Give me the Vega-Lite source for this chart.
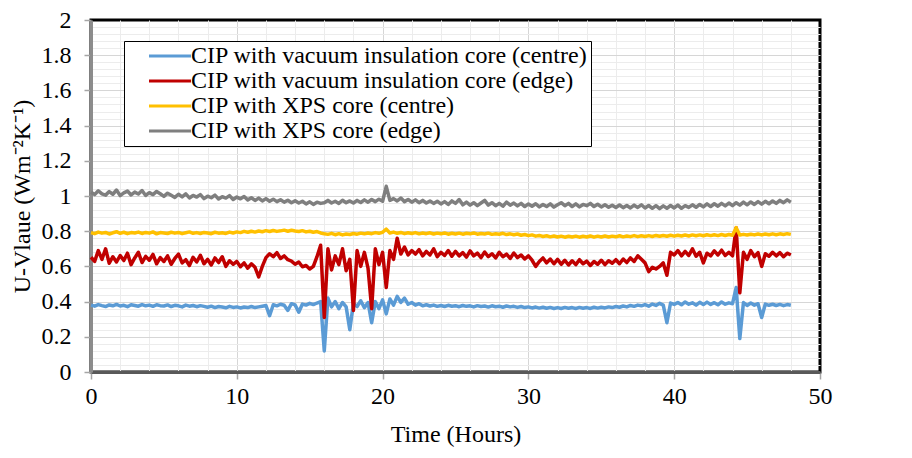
{
  "$schema": "https://vega.github.io/schema/vega-lite/v6.json",
  "width": 729,
  "height": 352,
  "autosize": {"type": "none"},
  "padding": {"left": 91, "top": 20, "right": 92, "bottom": 86},
  "background": "white",
  "config": {
    "view": {"stroke": "black", "strokeWidth": 3},
    "font": "Liberation Serif",
    "axis": {"labelFont": "Liberation Serif", "titleFont": "Liberation Serif", "labelFontSize": 24, "titleFontSize": 24, "labelColor": "black", "titleColor": "black", "titleFontWeight": "normal", "labelFlush": false}
  },
  "data": {"values": [
    {"t":0,"a":0.380,"b":0.652,"c":0.792,"d":1.021},
    {"t":0.25,"a":0.374,"b":0.628,"c":0.786,"d":1.008},
    {"t":0.5,"a":0.383,"b":0.690,"c":0.795,"d":1.030},
    {"t":0.75,"a":0.377,"b":0.640,"c":0.789,"d":1.012},
    {"t":1,"a":0.372,"b":0.700,"c":0.793,"d":1.005},
    {"t":1.25,"a":0.381,"b":0.618,"c":0.784,"d":1.025},
    {"t":1.5,"a":0.376,"b":0.655,"c":0.791,"d":1.010},
    {"t":1.75,"a":0.384,"b":0.625,"c":0.797,"d":1.034},
    {"t":2,"a":0.375,"b":0.662,"c":0.788,"d":1.002},
    {"t":2.25,"a":0.379,"b":0.633,"c":0.794,"d":1.018},
    {"t":2.5,"a":0.371,"b":0.675,"c":0.786,"d":1.028},
    {"t":2.75,"a":0.382,"b":0.610,"c":0.792,"d":1.006},
    {"t":3,"a":0.378,"b":0.648,"c":0.790,"d":1.022},
    {"t":3.25,"a":0.374,"b":0.680,"c":0.795,"d":1.011},
    {"t":3.5,"a":0.383,"b":0.622,"c":0.787,"d":1.031},
    {"t":3.75,"a":0.376,"b":0.657,"c":0.793,"d":1.003},
    {"t":4,"a":0.380,"b":0.635,"c":0.789,"d":1.019},
    {"t":4.25,"a":0.373,"b":0.668,"c":0.796,"d":1.008},
    {"t":4.5,"a":0.382,"b":0.615,"c":0.785,"d":1.026},
    {"t":4.75,"a":0.377,"b":0.650,"c":0.792,"d":1.013},
    {"t":5,"a":0.375,"b":0.628,"c":0.790,"d":0.998},
    {"t":5.25,"a":0.381,"b":0.660,"c":0.787,"d":1.016},
    {"t":5.5,"a":0.372,"b":0.612,"c":0.794,"d":1.004},
    {"t":5.75,"a":0.379,"b":0.645,"c":0.789,"d":0.992},
    {"t":6,"a":0.376,"b":0.670,"c":0.793,"d":1.010},
    {"t":6.25,"a":0.370,"b":0.620,"c":0.786,"d":0.995},
    {"t":6.5,"a":0.380,"b":0.638,"c":0.791,"d":1.012},
    {"t":6.75,"a":0.374,"b":0.605,"c":0.796,"d":0.989},
    {"t":7,"a":0.378,"b":0.652,"c":0.788,"d":1.003},
    {"t":7.25,"a":0.371,"b":0.625,"c":0.792,"d":0.994},
    {"t":7.5,"a":0.377,"b":0.663,"c":0.787,"d":1.008},
    {"t":7.75,"a":0.373,"b":0.615,"c":0.793,"d":0.985},
    {"t":8,"a":0.368,"b":0.640,"c":0.790,"d":0.999},
    {"t":8.25,"a":0.374,"b":0.608,"c":0.786,"d":0.990},
    {"t":8.5,"a":0.366,"b":0.648,"c":0.794,"d":1.005},
    {"t":8.75,"a":0.372,"b":0.622,"c":0.789,"d":0.983},
    {"t":9,"a":0.369,"b":0.655,"c":0.791,"d":0.996},
    {"t":9.25,"a":0.365,"b":0.600,"c":0.787,"d":0.988},
    {"t":9.5,"a":0.373,"b":0.632,"c":0.795,"d":1.002},
    {"t":9.75,"a":0.367,"b":0.612,"c":0.790,"d":0.980},
    {"t":10,"a":0.370,"b":0.628,"c":0.796,"d":0.994},
    {"t":10.25,"a":0.364,"b":0.598,"c":0.792,"d":0.984},
    {"t":10.5,"a":0.369,"b":0.620,"c":0.799,"d":0.997},
    {"t":10.75,"a":0.366,"b":0.590,"c":0.794,"d":0.978},
    {"t":11,"a":0.372,"b":0.615,"c":0.800,"d":0.990},
    {"t":11.25,"a":0.366,"b":0.595,"c":0.795,"d":0.975},
    {"t":11.5,"a":0.370,"b":0.540,"c":0.801,"d":0.988},
    {"t":11.75,"a":0.374,"b":0.600,"c":0.797,"d":0.972},
    {"t":12,"a":0.378,"b":0.650,"c":0.803,"d":0.985},
    {"t":12.25,"a":0.320,"b":0.672,"c":0.798,"d":0.970},
    {"t":12.5,"a":0.382,"b":0.655,"c":0.804,"d":0.982},
    {"t":12.75,"a":0.376,"b":0.678,"c":0.799,"d":0.968},
    {"t":13,"a":0.385,"b":0.645,"c":0.802,"d":0.979},
    {"t":13.25,"a":0.379,"b":0.660,"c":0.806,"d":0.965},
    {"t":13.5,"a":0.350,"b":0.638,"c":0.800,"d":0.976},
    {"t":13.75,"a":0.388,"b":0.630,"c":0.805,"d":0.962},
    {"t":14,"a":0.381,"b":0.612,"c":0.801,"d":0.973},
    {"t":14.25,"a":0.340,"b":0.625,"c":0.798,"d":0.960},
    {"t":14.5,"a":0.386,"b":0.598,"c":0.803,"d":0.970},
    {"t":14.75,"a":0.380,"b":0.605,"c":0.796,"d":0.955},
    {"t":15,"a":0.390,"b":0.585,"c":0.800,"d":0.967},
    {"t":15.25,"a":0.383,"b":0.600,"c":0.794,"d":0.952},
    {"t":15.5,"a":0.392,"b":0.655,"c":0.798,"d":0.965},
    {"t":15.75,"a":0.400,"b":0.720,"c":0.790,"d":0.958},
    {"t":16,"a":0.120,"b":0.310,"c":0.785,"d":0.962},
    {"t":16.25,"a":0.420,"b":0.700,"c":0.782,"d":0.975},
    {"t":16.5,"a":0.370,"b":0.580,"c":0.788,"d":0.960},
    {"t":16.75,"a":0.400,"b":0.660,"c":0.780,"d":0.970},
    {"t":17,"a":0.360,"b":0.610,"c":0.786,"d":0.958},
    {"t":17.25,"a":0.395,"b":0.700,"c":0.779,"d":0.976},
    {"t":17.5,"a":0.370,"b":0.575,"c":0.784,"d":0.962},
    {"t":17.75,"a":0.240,"b":0.640,"c":0.781,"d":0.972},
    {"t":18,"a":0.390,"b":0.350,"c":0.787,"d":0.960},
    {"t":18.25,"a":0.372,"b":0.690,"c":0.783,"d":0.975},
    {"t":18.5,"a":0.405,"b":0.600,"c":0.789,"d":0.963},
    {"t":18.75,"a":0.365,"b":0.680,"c":0.785,"d":0.978},
    {"t":19,"a":0.395,"b":0.590,"c":0.790,"d":0.965},
    {"t":19.25,"a":0.280,"b":0.360,"c":0.786,"d":0.980},
    {"t":19.5,"a":0.400,"b":0.700,"c":0.792,"d":0.968},
    {"t":19.75,"a":0.360,"b":0.610,"c":0.788,"d":0.982},
    {"t":20,"a":0.410,"b":0.680,"c":0.794,"d":0.970},
    {"t":20.25,"a":0.330,"b":0.480,"c":0.812,"d":1.055},
    {"t":20.5,"a":0.415,"b":0.690,"c":0.790,"d":0.975},
    {"t":20.75,"a":0.380,"b":0.640,"c":0.795,"d":0.985},
    {"t":21,"a":0.430,"b":0.760,"c":0.788,"d":0.972},
    {"t":21.25,"a":0.395,"b":0.670,"c":0.793,"d":0.988},
    {"t":21.5,"a":0.420,"b":0.710,"c":0.786,"d":0.968},
    {"t":21.75,"a":0.385,"b":0.665,"c":0.791,"d":0.980},
    {"t":22,"a":0.395,"b":0.690,"c":0.787,"d":0.965},
    {"t":22.25,"a":0.380,"b":0.670,"c":0.792,"d":0.978},
    {"t":22.5,"a":0.388,"b":0.695,"c":0.785,"d":0.962},
    {"t":22.75,"a":0.376,"b":0.660,"c":0.790,"d":0.975},
    {"t":23,"a":0.382,"b":0.685,"c":0.786,"d":0.960},
    {"t":23.25,"a":0.375,"b":0.665,"c":0.791,"d":0.972},
    {"t":23.5,"a":0.380,"b":0.700,"c":0.784,"d":0.958},
    {"t":23.75,"a":0.373,"b":0.655,"c":0.789,"d":0.970},
    {"t":24,"a":0.378,"b":0.680,"c":0.785,"d":0.955},
    {"t":24.25,"a":0.372,"b":0.662,"c":0.790,"d":0.968},
    {"t":24.5,"a":0.379,"b":0.690,"c":0.783,"d":0.952},
    {"t":24.75,"a":0.374,"b":0.658,"c":0.788,"d":0.972},
    {"t":25,"a":0.377,"b":0.685,"c":0.784,"d":0.958},
    {"t":25.25,"a":0.371,"b":0.660,"c":0.789,"d":0.980},
    {"t":25.5,"a":0.378,"b":0.678,"c":0.783,"d":0.950},
    {"t":25.75,"a":0.373,"b":0.652,"c":0.788,"d":0.965},
    {"t":26,"a":0.376,"b":0.688,"c":0.785,"d":0.948},
    {"t":26.25,"a":0.370,"b":0.660,"c":0.790,"d":0.962},
    {"t":26.5,"a":0.377,"b":0.675,"c":0.783,"d":0.945},
    {"t":26.75,"a":0.372,"b":0.650,"c":0.787,"d":0.960},
    {"t":27,"a":0.375,"b":0.682,"c":0.784,"d":0.975},
    {"t":27.25,"a":0.369,"b":0.655,"c":0.789,"d":0.948},
    {"t":27.5,"a":0.376,"b":0.672,"c":0.782,"d":0.962},
    {"t":27.75,"a":0.371,"b":0.648,"c":0.786,"d":0.945},
    {"t":28,"a":0.374,"b":0.680,"c":0.783,"d":0.958},
    {"t":28.25,"a":0.368,"b":0.655,"c":0.788,"d":0.942},
    {"t":28.5,"a":0.375,"b":0.670,"c":0.781,"d":0.965},
    {"t":28.75,"a":0.370,"b":0.645,"c":0.785,"d":0.948},
    {"t":29,"a":0.373,"b":0.676,"c":0.780,"d":0.960},
    {"t":29.25,"a":0.367,"b":0.650,"c":0.784,"d":0.944},
    {"t":29.5,"a":0.372,"b":0.665,"c":0.777,"d":0.958},
    {"t":29.75,"a":0.366,"b":0.642,"c":0.781,"d":0.940},
    {"t":30,"a":0.370,"b":0.660,"c":0.775,"d":0.955},
    {"t":30.25,"a":0.364,"b":0.635,"c":0.779,"d":0.942},
    {"t":30.5,"a":0.369,"b":0.600,"c":0.772,"d":0.956},
    {"t":30.75,"a":0.363,"b":0.628,"c":0.776,"d":0.938},
    {"t":31,"a":0.368,"b":0.648,"c":0.770,"d":0.952},
    {"t":31.25,"a":0.362,"b":0.620,"c":0.774,"d":0.940},
    {"t":31.5,"a":0.367,"b":0.642,"c":0.768,"d":0.955},
    {"t":31.75,"a":0.361,"b":0.615,"c":0.773,"d":0.937},
    {"t":32,"a":0.366,"b":0.640,"c":0.767,"d":0.950},
    {"t":32.25,"a":0.361,"b":0.612,"c":0.772,"d":0.962},
    {"t":32.5,"a":0.367,"b":0.635,"c":0.766,"d":0.945},
    {"t":32.75,"a":0.362,"b":0.608,"c":0.771,"d":0.958},
    {"t":33,"a":0.366,"b":0.632,"c":0.767,"d":0.940},
    {"t":33.25,"a":0.361,"b":0.610,"c":0.772,"d":0.955},
    {"t":33.5,"a":0.367,"b":0.638,"c":0.766,"d":0.938},
    {"t":33.75,"a":0.362,"b":0.615,"c":0.771,"d":0.952},
    {"t":34,"a":0.366,"b":0.630,"c":0.767,"d":0.945},
    {"t":34.25,"a":0.361,"b":0.605,"c":0.773,"d":0.958},
    {"t":34.5,"a":0.368,"b":0.628,"c":0.766,"d":0.940},
    {"t":34.75,"a":0.363,"b":0.612,"c":0.772,"d":0.953},
    {"t":35,"a":0.368,"b":0.635,"c":0.767,"d":0.938},
    {"t":35.25,"a":0.364,"b":0.610,"c":0.773,"d":0.950},
    {"t":35.5,"a":0.370,"b":0.632,"c":0.767,"d":0.936},
    {"t":35.75,"a":0.366,"b":0.618,"c":0.772,"d":0.948},
    {"t":36,"a":0.372,"b":0.638,"c":0.768,"d":0.935},
    {"t":36.25,"a":0.368,"b":0.615,"c":0.774,"d":0.949},
    {"t":36.5,"a":0.375,"b":0.642,"c":0.768,"d":0.934},
    {"t":36.75,"a":0.370,"b":0.622,"c":0.773,"d":0.946},
    {"t":37,"a":0.378,"b":0.648,"c":0.769,"d":0.932},
    {"t":37.25,"a":0.373,"b":0.628,"c":0.775,"d":0.948},
    {"t":37.5,"a":0.380,"b":0.660,"c":0.769,"d":0.935},
    {"t":37.75,"a":0.376,"b":0.640,"c":0.774,"d":0.950},
    {"t":38,"a":0.383,"b":0.620,"c":0.770,"d":0.932},
    {"t":38.25,"a":0.374,"b":0.570,"c":0.775,"d":0.946},
    {"t":38.5,"a":0.386,"b":0.595,"c":0.770,"d":0.930},
    {"t":38.75,"a":0.378,"b":0.585,"c":0.776,"d":0.945},
    {"t":39,"a":0.390,"b":0.600,"c":0.771,"d":0.928},
    {"t":39.25,"a":0.380,"b":0.620,"c":0.776,"d":0.944},
    {"t":39.5,"a":0.280,"b":0.550,"c":0.771,"d":0.930},
    {"t":39.75,"a":0.392,"b":0.680,"c":0.777,"d":0.946},
    {"t":40,"a":0.384,"b":0.665,"c":0.772,"d":0.932},
    {"t":40.25,"a":0.395,"b":0.690,"c":0.777,"d":0.948},
    {"t":40.5,"a":0.382,"b":0.660,"c":0.773,"d":0.930},
    {"t":40.75,"a":0.398,"b":0.685,"c":0.778,"d":0.945},
    {"t":41,"a":0.385,"b":0.662,"c":0.773,"d":0.935},
    {"t":41.25,"a":0.393,"b":0.700,"c":0.779,"d":0.950},
    {"t":41.5,"a":0.380,"b":0.658,"c":0.774,"d":0.936},
    {"t":41.75,"a":0.396,"b":0.680,"c":0.779,"d":0.952},
    {"t":42,"a":0.383,"b":0.620,"c":0.774,"d":0.938},
    {"t":42.25,"a":0.397,"b":0.675,"c":0.780,"d":0.955},
    {"t":42.5,"a":0.384,"b":0.660,"c":0.775,"d":0.940},
    {"t":42.75,"a":0.394,"b":0.688,"c":0.780,"d":0.956},
    {"t":43,"a":0.382,"b":0.665,"c":0.775,"d":0.942},
    {"t":43.25,"a":0.398,"b":0.692,"c":0.781,"d":0.958},
    {"t":43.5,"a":0.385,"b":0.662,"c":0.776,"d":0.944},
    {"t":43.75,"a":0.393,"b":0.680,"c":0.781,"d":0.960},
    {"t":44,"a":0.388,"b":0.660,"c":0.777,"d":0.945},
    {"t":44.25,"a":0.480,"b":0.820,"c":0.820,"d":0.962},
    {"t":44.5,"a":0.190,"b":0.450,"c":0.778,"d":0.948},
    {"t":44.75,"a":0.395,"b":0.680,"c":0.782,"d":0.965},
    {"t":45,"a":0.378,"b":0.640,"c":0.778,"d":0.950},
    {"t":45.25,"a":0.392,"b":0.690,"c":0.783,"d":0.966},
    {"t":45.5,"a":0.380,"b":0.655,"c":0.779,"d":0.952},
    {"t":45.75,"a":0.388,"b":0.678,"c":0.784,"d":0.968},
    {"t":46,"a":0.310,"b":0.600,"c":0.779,"d":0.954},
    {"t":46.25,"a":0.386,"b":0.672,"c":0.784,"d":0.970},
    {"t":46.5,"a":0.379,"b":0.658,"c":0.780,"d":0.956},
    {"t":46.75,"a":0.385,"b":0.680,"c":0.785,"d":0.972},
    {"t":47,"a":0.378,"b":0.660,"c":0.780,"d":0.958},
    {"t":47.25,"a":0.384,"b":0.678,"c":0.785,"d":0.975},
    {"t":47.5,"a":0.377,"b":0.655,"c":0.781,"d":0.962},
    {"t":47.75,"a":0.383,"b":0.675,"c":0.786,"d":0.978},
    {"t":48,"a":0.379,"b":0.665,"c":0.782,"d":0.965}
  ]},
  "transform": [{"fold": ["a", "b", "c", "d"], "as": ["series", "u"]}],
  "layer": [
    {
      "mark": {"type": "line", "opacity": 0},
      "encoding": {
        "x": {"field": "t", "type": "quantitative", "scale": {"domain": [0, 50], "nice": false},
          "axis": {"orient": "bottom", "values": [2,4,6,8,12,14,16,18,22,24,26,28,32,34,36,38,42,44,46,48], "grid": true, "gridColor": "#ececec", "gridWidth": 1, "labels": false, "ticks": false, "domain": false, "title": null}},
        "y": {"field": "u", "type": "quantitative", "scale": {"domain": [0, 2], "nice": false},
          "axis": {"orient": "left", "values": [0.04,0.08,0.12,0.16,0.24,0.28,0.32,0.36,0.44,0.48,0.52,0.56,0.64,0.68,0.72,0.76,0.84,0.88,0.92,0.96,1.04,1.08,1.12,1.16,1.24,1.28,1.32,1.36,1.44,1.48,1.52,1.56,1.64,1.68,1.72,1.76,1.84,1.88,1.92,1.96], "grid": true, "gridColor": "#ececec", "gridWidth": 1, "labels": false, "ticks": false, "domain": false, "title": null}},
        "detail": {"field": "series", "type": "nominal"}
      }
    },
    {
      "mark": {"type": "line", "opacity": 0},
      "encoding": {
        "x": {"field": "t", "type": "quantitative", "scale": {"domain": [0, 50], "nice": false},
          "axis": {"orient": "bottom", "values": [10, 20, 30, 40], "grid": true, "gridColor": "#d6d6d6", "gridWidth": 1, "labels": false, "ticks": false, "domain": false, "title": null}},
        "y": {"field": "u", "type": "quantitative", "scale": {"domain": [0, 2], "nice": false},
          "axis": {"orient": "left", "values": [0.2, 0.4, 0.6, 0.8, 1, 1.2, 1.4, 1.6, 1.8], "grid": true, "gridColor": "#d6d6d6", "gridWidth": 1, "labels": false, "ticks": false, "domain": false, "title": null}},
        "detail": {"field": "series", "type": "nominal"}
      }
    },
    {
      "mark": {"type": "line", "strokeWidth": 3.5, "strokeJoin": "round"},
      "encoding": {
        "x": {"field": "t", "type": "quantitative", "scale": {"domain": [0, 50], "nice": false},
          "axis": {"orient": "bottom", "values": [0, 10, 20, 30, 40, 50], "grid": false, "tickSize": 7, "tickColor": "#a6a6a6", "tickWidth": 1.5, "labelPadding": 5, "domainColor": "#595959", "domainWidth": 3, "title": "Time (Hours)", "titleY": 62, "titleBaseline": "middle"}},
        "y": {"field": "u", "type": "quantitative", "scale": {"domain": [0, 2], "nice": false},
          "axis": {"orient": "left", "values": [0, 0.2, 0.4, 0.6, 0.8, 1, 1.2, 1.4, 1.6, 1.8, 2], "format": "~g", "grid": false, "tickSize": 7, "tickColor": "#a6a6a6", "tickWidth": 1.5, "labelPadding": 13, "domainColor": "#8c8c8c", "domainWidth": 3, "title": "U-Vlaue (Wm⁻²K⁻¹)", "titleX": -69, "titleBaseline": "middle"}},
        "color": {"field": "series", "type": "nominal",
          "scale": {"domain": ["a", "b", "c", "d"], "range": ["#5B9BD5", "#C00000", "#FFC000", "#7F7F7F"]},
          "legend": {"orient": "none", "legendX": 33, "legendY": 21, "title": null, "fillColor": "white", "strokeColor": "black", "padding": 3, "symbolType": "M-2,0H2", "symbolSize": 441, "symbolStrokeWidth": 3, "symbolOffset": 31, "labelOffset": 9, "labelFont": "Liberation Serif", "labelFontSize": 24, "labelColor": "black", "labelLimit": 600, "rowPadding": 1,
            "labelExpr": "datum.label == 'a' ? 'CIP with vacuum insulation core (centre) ' : datum.label == 'b' ? 'CIP with vacuum insulation core (edge)' : datum.label == 'c' ? 'CIP with XPS core (centre)' : 'CIP with XPS core (edge)'"}}
      }
    }
  ],
  "resolve": {"axis": {"x": "independent", "y": "independent"}}
}
